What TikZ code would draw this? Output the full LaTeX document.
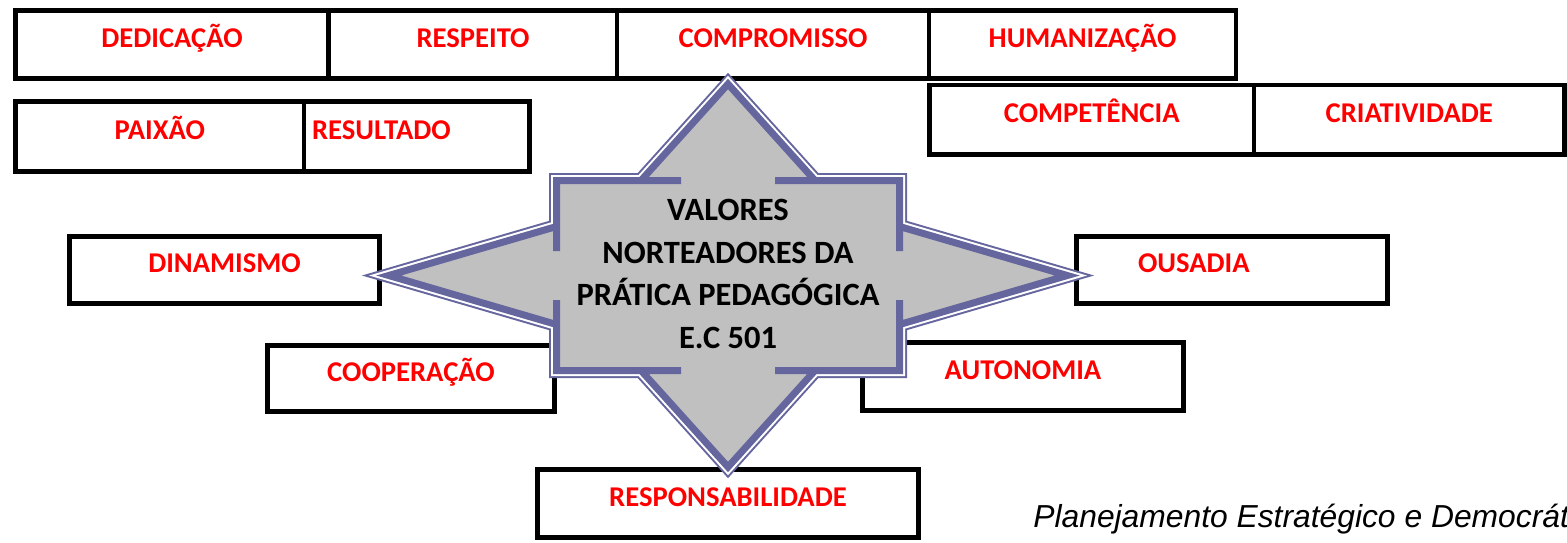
\documentclass[tikz,border=0pt]{standalone}
\usepackage{fontspec}
\setmainfont{Carlito}
\newfontfamily\planfont{Liberation Sans}
\usepackage{tikz}
\definecolor{valred}{RGB}{255,0,0}
\definecolor{vpurple}{RGB}{102,102,158}
\definecolor{starfill}{RGB}{192,192,192}
\tikzset{
	valuebox/.style={draw=black, line width=0.095cm, inner sep=0pt, text=valred,
		font=\bfseries\fontsize{16.3}{18}\selectfont, text height=0.75em, text depth=0.45em},
	valuestar/.style={line join=miter, draw=vpurple, line width=0.14cm,
		preaction={draw=vpurple, line width=0.3cm},
		preaction={draw=white, line width=0.22cm},
		preaction={fill=starfill}}
}
\begin{document}
\begin{tikzpicture}[x=0.02cm, y=-0.02cm]
\useasboundingbox (0,0) rectangle (1567,542);
%top rows
\node[valuebox, minimum width=6.27cm, minimum height=1.36cm] (ded) at (172,44.5) {DEDICAÇÃO};
\node[valuebox, minimum width=5.76cm, minimum height=1.36cm] (res) at (473,44.5) {RESPEITO};
\node[valuebox, minimum width=6.24cm, minimum height=1.36cm] (com) at (773,44.5) {COMPROMISSO};
\node[valuebox, minimum width=6.14cm, minimum height=1.36cm] (hum) at (1082.5,44.5) {HUMANIZAÇÃO};
\node[valuebox, minimum width=5.77cm, minimum height=1.40cm] (pai) at (159.75,136.5) {PAIXÃO};
\node[valuebox, minimum height=1.40cm, text width=4.19cm, align=left, inner xsep=0.16cm] (rsl) at (416.75,136.5) {RESULTADO};
\node[valuebox, minimum width=6.49cm, minimum height=1.39cm] (cpt) at (1091.75,119.75) {COMPETÊNCIA};
\node[valuebox, minimum width=6.21cm, minimum height=1.39cm] (cri) at (1409.25,119.75) {CRIATIVIDADE};
%side boxes
\node[valuebox, minimum width=6.2cm, minimum height=1.34cm] (din) at (224.5,270) {DINAMISMO};
\node[valuebox, minimum height=1.34cm, text width=3.76cm, align=left, inner xsep=1.23cm] (ous) at (1232,270) {OUSADIA};
\node[valuebox, minimum width=5.74cm, minimum height=1.32cm] (coo) at (411,378.5) {COOPERAÇÃO};
\node[valuebox, minimum width=6.42cm, minimum height=1.36cm] (aut) at (1023,376.5) {AUTONOMIA};
\node[valuebox, minimum width=7.62cm, minimum height=1.36cm] (rsp) at (728,503.5) {RESPONSABILIDADE};
%four way arrow
\path[valuestar] (556.5,180.5) -- (681,180.5) -- (641,180.5) -- (728,84) -- (815,180.5) -- (775,180.5)
	-- (899.5,180.5) -- (899.5,251) -- (899.5,226.5) -- (1067.3,275.5) -- (899.5,324.5) -- (899.5,300)
	-- (899.5,370.5) -- (775,370.5) -- (815,370.5) -- (728,467) -- (641,370.5) -- (681,370.5)
	-- (556.5,370.5) -- (556.5,300) -- (556.5,324.5) -- (388.7,275.5) -- (556.5,226.5) -- (556.5,251) -- cycle;
\node[align=center, font=\bfseries\fontsize{18.5}{24.4}\selectfont] (title) at (728,274)
	{VALORES\\NORTEADORES DA\\PRÁTICA PEDAGÓGICA\\E.C 501};
%caption
\node[anchor=base west, inner sep=0pt, font=\planfont\itshape\fontsize{18.1}{20}\selectfont] (plan) at (1033,527)
	{Planejamento Estratégico e Democrát};
\end{tikzpicture}
\end{document}
